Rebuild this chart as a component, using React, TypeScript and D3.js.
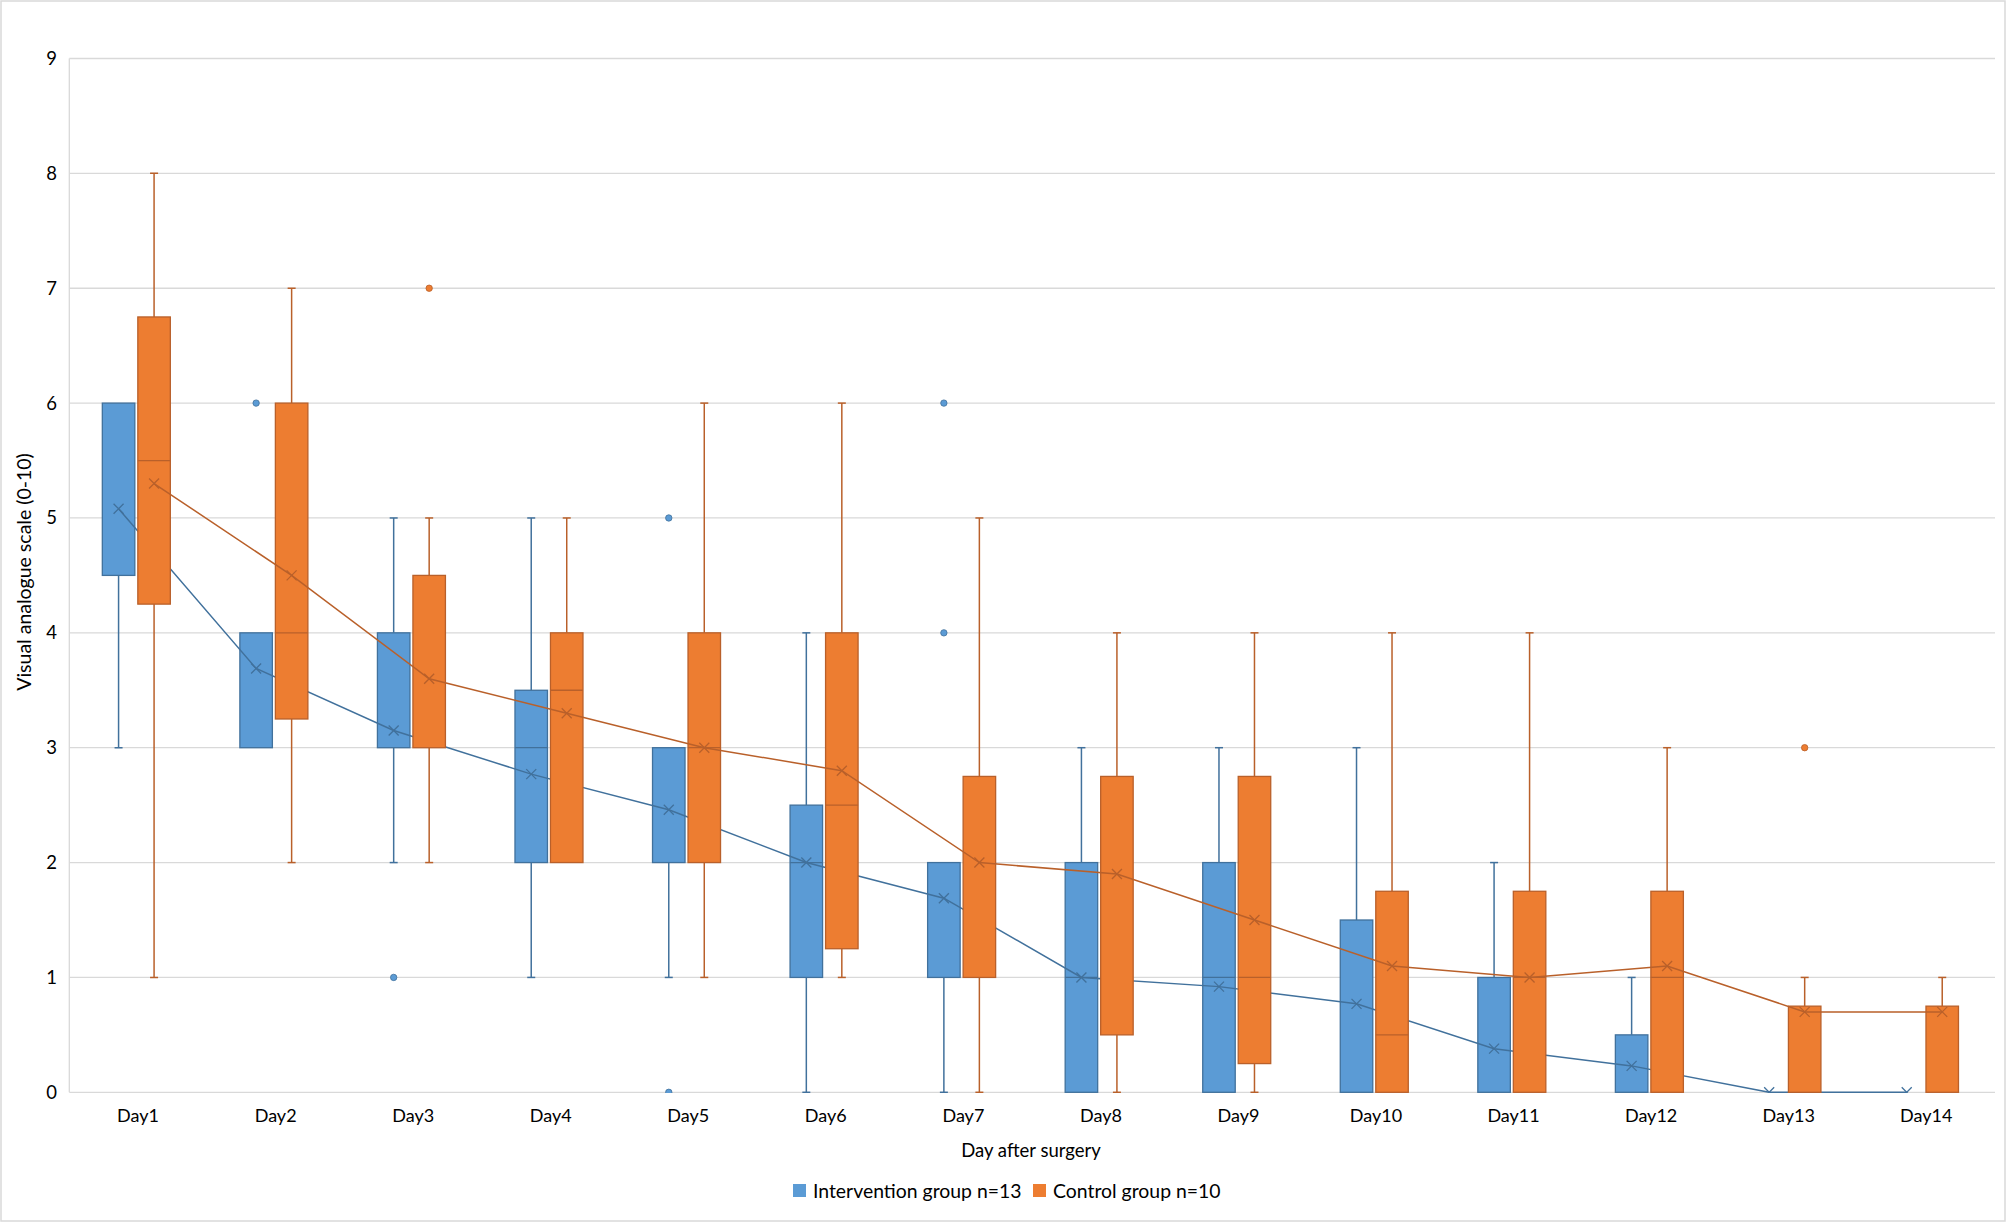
import React from "react";
import * as d3 from "d3";

const days = ["Day1","Day2","Day3","Day4","Day5","Day6","Day7","Day8","Day9","Day10","Day11","Day12","Day13","Day14"];
const groups = ["Intervention group n=13", "Control group n=10"];
const yTicks = [0,1,2,3,4,5,6,7,8,9];

// Intervention group (blue)
const intMin = [3,3,2,1,1,0,0,0,0,0,0,0,0,0];
const intQ1 = [4.5,3,3,2,2,1,1,0,0,0,0,0,0,0];
const intMedian: (number|null)[] = [null,null,null,3,null,2,null,1,1,null,null,null,null,null];
const intQ3 = [6,4,4,3.5,3,2.5,2,2,2,1.5,1,0.5,0,0];
const intMax = [6,4,5,5,3,4,2,3,3,3,2,1,0,0];
const intMean = [5.08,3.69,3.15,2.77,2.46,2.0,1.69,1.0,0.92,0.77,0.38,0.23,0,0];
const intOutliers: number[][] = [[],[6],[1],[],[5,0],[],[4,6],[],[],[],[],[],[],[]];

// Control group (orange)
const ctlMin = [1,2,2,2,1,1,0,0,0,0,0,0,0,0];
const ctlQ1 = [4.25,3.25,3,2,2,1.25,1,0.5,0.25,0,0,0,0,0];
const ctlMedian: (number|null)[] = [5.5,4,null,3.5,3,2.5,null,null,1,0.5,1,1,null,null];
const ctlQ3 = [6.75,6,4.5,4,4,4,2.75,2.75,2.75,1.75,1.75,1.75,0.75,0.75];
const ctlMax = [8,7,5,5,6,6,5,4,4,4,4,3,1,1];
const ctlMean = [5.3,4.5,3.6,3.3,3.0,2.8,2.0,1.9,1.5,1.1,1.0,1.1,0.7,0.7];
const ctlOutliers: number[][] = [[],[],[7],[],[],[],[],[],[],[],[],[],[3],[]];

const W = 2008, H = 1224;
const FONT = "Lato, 'Open Sans', sans-serif";

const series = [
  { name: groups[0], fill: "#5B9BD5", stroke: "#41719C", min: intMin, q1: intQ1, med: intMedian, q3: intQ3, max: intMax, mean: intMean, out: intOutliers },
  { name: groups[1], fill: "#ED7D31", stroke: "#B9602A", min: ctlMin, q1: ctlQ1, med: ctlMedian, q3: ctlQ3, max: ctlMax, mean: ctlMean, out: ctlOutliers },
];

export default function App() {
  const x = d3.scaleBand<string>().domain(days).range([69.3, 1995]).padding(0);
  const y = d3.scaleLinear().domain([0, 9]).range([1092.3, 58.5]);
  const inner = d3.scaleBand<string>().domain(groups).range([-35.75, 32.25]).paddingInner(0.0845).paddingOuter(0);
  const bw = inner.bandwidth();
  const cap = 4;

  const markX = (cx: number, cy: number, s = 5) => `M${cx - s},${cy - s}L${cx + s},${cy + s}M${cx - s},${cy + s}L${cx + s},${cy - s}`;

  return (
    <svg width={W} height={H} style={{ position: "absolute", left: 0, top: 0, background: "#fff" }} fontFamily={FONT}>
      <defs>
        <clipPath id="plot">
          <rect x={69.3} y={y(9) - 20} width={1995 - 69.3} height={y(0) - y(9) + 20.6} />
        </clipPath>
      </defs>
      <rect x={1} y={1} width={W - 4} height={H - 4} fill="#fff" stroke="#D9D9D9" strokeWidth={1.5} />
      {/* gridlines */}
      {yTicks.map((t) => (
        <line key={t} x1={69.3} x2={1995} y1={y(t)} y2={y(t)} stroke="#D9D9D9" strokeWidth={1.3} />
      ))}
      <line x1={69.3} x2={69.3} y1={y(9)} y2={y(0)} stroke="#D9D9D9" strokeWidth={1.3} />
      {/* y tick labels */}
      {yTicks.map((t) => (
        <text key={t} x={57} y={y(t)} dy="0.35em" textAnchor="end" fontSize={18.5} fill="#000">{t}</text>
      ))}
      {/* x labels */}
      {days.map((d) => (
        <text key={d} x={x(d)! + x.bandwidth() / 2} y={1116} dy="0.35em" textAnchor="middle" fontSize={18} fill="#000">{d}</text>
      ))}
      {/* boxes + mean line per series, drawn in series order */}
      <g clipPath="url(#plot)">
        {series.map((s) => {
          const pts: [number, number][] = days.map((d, i) => [x(d)! + x.bandwidth() / 2 + inner(s.name)! + bw / 2, y(s.mean[i])]);
          const line = d3.line();
          return (
            <g key={s.name}>
              {days.map((d, i) => {
                const c = x(d)! + x.bandwidth() / 2;
                const x0 = c + inner(s.name)!;
                const cx = x0 + bw / 2;
                return (
                  <g key={d}>
                    {s.max[i] > s.q3[i] && (
                      <>
                        <line x1={cx} x2={cx} y1={y(s.max[i])} y2={y(s.q3[i])} stroke={s.stroke} strokeWidth={1.5} />
                        <line x1={cx - cap} x2={cx + cap} y1={y(s.max[i])} y2={y(s.max[i])} stroke={s.stroke} strokeWidth={1.5} />
                      </>
                    )}
                    {s.min[i] < s.q1[i] && (
                      <>
                        <line x1={cx} x2={cx} y1={y(s.q1[i])} y2={y(s.min[i])} stroke={s.stroke} strokeWidth={1.5} />
                        <line x1={cx - cap} x2={cx + cap} y1={y(s.min[i])} y2={y(s.min[i])} stroke={s.stroke} strokeWidth={1.5} />
                      </>
                    )}
                    {s.q3[i] > s.q1[i] && (
                      <rect x={x0} y={y(s.q3[i])} width={bw} height={y(s.q1[i]) - y(s.q3[i])} fill={s.fill} stroke={s.stroke} strokeWidth={1.3} />
                    )}
                    {s.med[i] !== null && (
                      <line x1={x0} x2={x0 + bw} y1={y(s.med[i] as number)} y2={y(s.med[i] as number)} stroke={s.stroke} strokeWidth={1.3} />
                    )}
                    {s.out[i].map((o, k) => (
                      <circle key={k} cx={cx} cy={y(o)} r={3.2} fill={s.fill} stroke={s.stroke} strokeWidth={0.8} />
                    ))}
                  </g>
                );
              })}
              <path d={line(pts)!} fill="none" stroke={s.stroke} strokeWidth={1.5} />
              {pts.map((p, i) => (
                <path key={i} d={markX(p[0], p[1])} stroke={s.stroke} strokeWidth={1.3} fill="none" />
              ))}
            </g>
          );
        })}
      </g>
      {/* axis titles */}
      <text x={1031} y={1151} dy="0.35em" textAnchor="middle" fontSize={18.5} fill="#000">Day after surgery</text>
      <text transform={`translate(24,572) rotate(-90)`} dy="0.35em" textAnchor="middle" fontSize={19.5} fill="#000">Visual analogue scale (0-10)</text>
      {/* legend */}
      <rect x={793} y={1184} width={13} height={13} fill={series[0].fill} />
      <text x={813} y={1191} dy="0.35em" fontSize={19.4} fill="#000">{groups[0]}</text>
      <rect x={1033} y={1184} width={13} height={13} fill={series[1].fill} />
      <text x={1053} y={1191} dy="0.35em" fontSize={19.4} fill="#000">{groups[1]}</text>
    </svg>
  );
}
